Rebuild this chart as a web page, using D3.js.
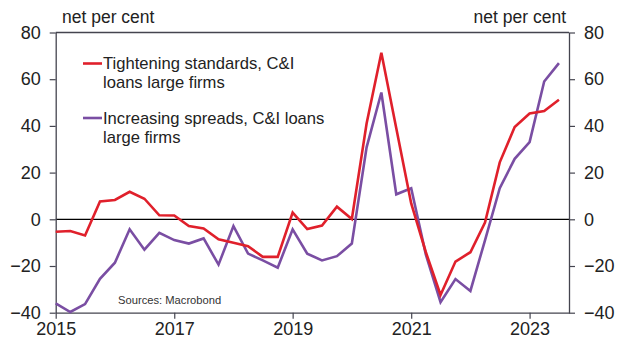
<!DOCTYPE html>
<html>
<head>
<meta charset="utf-8">
<script src="https://cdn.jsdelivr.net/npm/d3@7"></script>
<style>
  html, body { margin: 0; padding: 0; background: #fff; }
  svg { display: block; font-family: "Liberation Sans", Arial, sans-serif; }
</style>
</head>
<body>
<svg id="chart" width="625" height="344"></svg>
<script>
// Quarterly survey dates (first month of each quarter), 2015 Q1 – 2023 Q3
const quarters = [
  "2015-01","2015-04","2015-07","2015-10",
  "2016-01","2016-04","2016-07","2016-10",
  "2017-01","2017-04","2017-07","2017-10",
  "2018-01","2018-04","2018-07","2018-10",
  "2019-01","2019-04","2019-07","2019-10",
  "2020-01","2020-04","2020-07","2020-10",
  "2021-01","2021-04","2021-07","2021-10",
  "2022-01","2022-04","2022-07","2022-10",
  "2023-01","2023-04","2023-07"
];

// Net per cent of banks tightening standards on C&I loans to large firms
const tighteningStandards = [
  -5.3, -5.0, -6.9, 7.6,
  8.3, 11.8, 8.8, 1.7,
  1.6, -2.9, -3.9, -8.6,
  -10.0, -11.5, -16.1, -16.1,
  2.9, -4.2, -2.7, 5.4,
  0.1, 41.0, 71.3, 39.0,
  6.8, -14.0, -32.4, -18.1,
  -14.1, -1.4, 24.4, 39.5,
  45.3, 46.4, 51.2
];

// Net per cent of banks increasing spreads on C&I loans to large firms
const increasingSpreads = [
  -36.0, -39.7, -36.3, -25.5,
  -18.6, -4.3, -13.0, -5.8,
  -8.9, -10.4, -8.2, -19.4,
  -2.9, -14.7, -17.6, -20.7,
  -4.3, -14.7, -17.6, -15.8,
  -10.4, 30.8, 54.3, 10.7,
  13.3, -15.0, -35.5, -25.6,
  -30.7, -9.0, 13.3, 25.9,
  33.1, 59.0, 66.9
];

const yTicks = [-40, -20, 0, 20, 40, 60, 80];
const xTickYears = [2015, 2017, 2019, 2021, 2023];
const seriesNames = [
  ["Tightening standards, C&I", "loans large firms"],
  ["Increasing spreads, C&I loans", "large firms"]
];
const seriesColors = ["#e0202b", "#7a4ea3"];
const yUnit = "net per cent";
const sourceNote = "Sources: Macrobond";

const parseQ = d3.timeParse("%Y-%m");
const dates = quarters.map(parseQ);

const svg = d3.select("#chart");
const margin = { left: 55.7, right: 625 - 569, top: 32.5, bottom: 344 - 312.7 };
const W = 625, H = 344;

const x = d3.scaleTime()
  .domain([new Date(2015, 0, 1), new Date(2023, 8, 1)])
  .range([margin.left, W - margin.right]);

const y = d3.scaleLinear()
  .domain([-40, 80])
  .range([H - margin.bottom, margin.top]);

const axisColor = "#44444f";
const textColor = "#222";

// Top frame line
svg.append("line")
  .attr("x1", x.range()[0]).attr("x2", x.range()[1])
  .attr("y1", y(80)).attr("y2", y(80))
  .attr("stroke", axisColor).attr("stroke-width", 1.3);

// Zero line
svg.append("line")
  .attr("x1", x.range()[0]).attr("x2", x.range()[1])
  .attr("y1", y(0)).attr("y2", y(0))
  .attr("stroke", "#000").attr("stroke-width", 1.2);

function styleAxis(g) {
  g.selectAll(".domain").attr("stroke", axisColor).attr("stroke-width", 1.3);
  g.selectAll(".tick line").attr("stroke", axisColor).attr("stroke-width", 1.2);
  g.selectAll(".tick text")
    .attr("fill", textColor)
    .style("font-size", "18px")
    .style("font-family", "'Liberation Sans', Arial, sans-serif");
}

// Left axis
svg.append("g")
  .attr("transform", `translate(${x.range()[0]},0)`)
  .call(d3.axisLeft(y).tickValues(yTicks).tickSize(6).tickSizeOuter(0).tickPadding(9))
  .call(styleAxis);

// Right axis
svg.append("g")
  .attr("transform", `translate(${x.range()[1]},0)`)
  .call(d3.axisRight(y).tickValues(yTicks).tickSize(6).tickSizeOuter(0).tickPadding(9))
  .call(styleAxis);

// Bottom axis
svg.append("g")
  .attr("transform", `translate(0,${y(-40)})`)
  .call(d3.axisBottom(x)
    .tickValues(xTickYears.map(yr => new Date(yr, 0, 1)))
    .tickFormat(d3.timeFormat("%Y"))
    .tickSize(6).tickSizeOuter(0).tickPadding(4))
  .call(styleAxis);

// Series lines (purple drawn first so red sits on top)
const line = d3.line()
  .x((d, i) => x(dates[i]))
  .y(d => y(d));

[[increasingSpreads, seriesColors[1]], [tighteningStandards, seriesColors[0]]].forEach(([vals, color]) => {
  svg.append("path")
    .datum(vals)
    .attr("fill", "none")
    .attr("stroke", color)
    .attr("stroke-width", 2.6)
    .attr("stroke-linejoin", "miter")
    .attr("d", line);
});

// Unit labels
svg.append("text")
  .attr("x", 62).attr("y", 23)
  .attr("fill", textColor).style("font-size", "17.5px")
  .text(yUnit);
svg.append("text")
  .attr("x", 566).attr("y", 23)
  .attr("text-anchor", "end")
  .attr("fill", textColor).style("font-size", "17.5px")
  .text(yUnit);

// Legend
const legendRows = [63.5, 118];
seriesNames.forEach((lines, k) => {
  const yy = legendRows[k];
  svg.append("line")
    .attr("x1", 83).attr("x2", 102)
    .attr("y1", yy).attr("y2", yy)
    .attr("stroke", seriesColors[k]).attr("stroke-width", 2.6);
  const t = svg.append("text")
    .attr("x", 103).attr("y", yy + 5.5)
    .attr("fill", textColor).style("font-size", "16.6px");
  lines.forEach((s, j) => {
    t.append("tspan").attr("x", 103).attr("dy", j === 0 ? 0 : 19).text(s);
  });
});

// Source note
svg.append("text")
  .attr("x", 118).attr("y", 304)
  .attr("fill", "#333").style("font-size", "11.2px")
  .text(sourceNote);
</script>
</body>
</html>
